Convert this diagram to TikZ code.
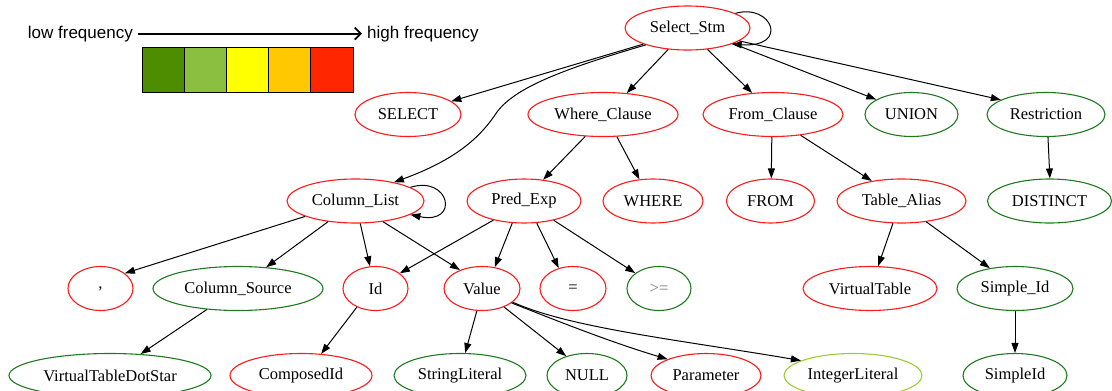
\documentclass[tikz,border=0pt]{standalone}
\usepackage{fontspec}
\usetikzlibrary{shapes.geometric,arrows.meta}
\newfontfamily\gvserif{Liberation Serif}
\newfontfamily\gvsans{Liberation Sans}
\definecolor{gvred}{HTML}{FF1A1A}
\definecolor{gvgreen}{HTML}{1F7A1F}
\definecolor{gvlight}{HTML}{9ACD32}
\definecolor{gegray}{HTML}{7A7A7A}
\definecolor{lvA}{HTML}{4E8C00}
\definecolor{lvB}{HTML}{8BBF3F}
\definecolor{lvC}{HTML}{FFFF00}
\definecolor{lvD}{HTML}{FFC800}
\definecolor{lvE}{HTML}{FF2600}
\tikzset{
  gvnode/.style={ellipse, draw, line width=1.1pt, inner sep=0pt, minimum height=44pt,
    font=\gvserif\fontsize{16.5}{18}\selectfont},
  hot/.style={gvnode, draw=gvred},
  cold/.style={gvnode, draw=gvgreen},
  mild/.style={gvnode, draw=gvlight},
  gvedge/.style={line width=1pt, -{Triangle[length=10pt,width=7pt]}},
  legtext/.style={inner sep=0pt, font=\gvsans\fontsize{17}{20}\selectfont},
  legbox/.style={draw, line width=1pt, inner sep=0pt, minimum width=42.2pt, minimum height=45pt},
}
\begin{document}
\begin{tikzpicture}[x=1pt, y=-1pt]
\useasboundingbox (0,0) rectangle (1112,391);

% legend: frequency scale
\node[legtext, anchor=base east] (lowtxt) at (133,38) {low frequency};
\node[legtext, anchor=base west] (hightxt) at (367,38) {high frequency};
\draw[line width=1.8pt, -{Straight Barb[length=6pt,width=12pt]}]
  ([xshift=5pt]lowtxt.east) -- ([xshift=-5pt]hightxt.west);
\foreach \c [count=\i] in {lvA,lvB,lvC,lvD,lvE}
  \node[legbox, fill=\c] (lv\i) at ({142+42.2*(\i-0.5)},69.5) {};

% parse tree nodes
\node[hot,  minimum width=125pt] (sel)      at (687.5,28)   {Select\_Stm};

\node[hot,  minimum width=106pt] (kwsel)    at (408,114.5)  {SELECT};
\node[hot,  minimum width=150pt] (where)    at (603,114.5)  {Where\_Clause};
\node[hot,  minimum width=140pt] (from)     at (773,114.5)  {From\_Clause};
\node[cold, minimum width=93pt]  (union)    at (911.5,114.5){UNION};
\node[cold, minimum width=118pt] (restr)    at (1046,114.5) {Restriction};

\node[hot,  minimum width=137pt] (collist)  at (355.5,201)  {Column\_List};
\node[hot,  minimum width=114pt] (pred)     at (524,201)    {Pred\_Exp};
\node[hot,  minimum width=100pt] (kwwhere)  at (653,201)    {WHERE};
\node[hot,  minimum width=88pt]  (kwfrom)   at (770.5,201)  {FROM};
\node[hot,  minimum width=129pt] (talias)   at (901.5,201)  {Table\_Alias};
\node[cold, minimum width=124pt] (distinct) at (1049.5,201) {DISTINCT};

\node[hot,  minimum width=65pt]  (comma)    at (100.5,288.5){,};
\node[cold, minimum width=170pt] (colsrc)   at (238,288.5)  {Column\_Source};
\node[hot,  minimum width=65pt]  (id)       at (375.5,288.5){Id};
\node[hot,  minimum width=76pt]  (value)    at (482,288.5)  {Value};
\node[hot,  minimum width=66pt]  (eq)       at (573,288.5)  {=};
\node[cold, minimum width=64pt, text=gegray] (ge) at (659,288.5) {>=};
\node[hot,  minimum width=134pt] (vtable)   at (870,288.5)  {VirtualTable};
\node[cold, minimum width=116pt] (simpid)   at (1015,288.5) {Simple\_Id};

\node[cold, minimum width=202pt] (vtds)     at (110,375.5)  {VirtualTableDotStar};
\node[hot,  minimum width=142pt] (composed) at (301,375.5)  {ComposedId};
\node[cold, minimum width=132pt] (strlit)   at (460,375.5)  {StringLiteral};
\node[cold, minimum width=80pt]  (null)     at (587,375.5)  {NULL};
\node[hot,  minimum width=110pt] (param)    at (706,375.5)  {Parameter};
\node[mild, minimum width=138pt] (intlit)   at (853,375.5)  {IntegerLiteral};
\node[cold, minimum width=104pt] (simpleid) at (1015,375.5) {SimpleId};

% edges from Select_Stm
\draw[gvedge] (sel.17) .. controls (772,3) and (790,48) .. (sel.-20);
\draw[gvedge] (sel.-160) -- (kwsel.17);
\draw[gvedge] (sel.-158) .. controls (560,70) and (515,88) .. (497,112)
                         .. controls (480,138) and (455,160) .. (collist.26);
\draw[gvedge] (sel.-132) -- (where.42);
\draw[gvedge] (sel.-47) -- (from.134);
\draw[gvedge] (sel.-19) -- (union.157);
\draw[gvedge] (sel.-14) -- (restr.162);

% second level
\draw[gvedge] (where.-129) -- (pred.48);
\draw[gvedge] (where.-58) -- (kwwhere.122);
\draw[gvedge] (from.-93) -- (kwfrom.88);
\draw[gvedge] (from.-37) -- (talias.146);
\draw[gvedge] (restr.-85) -- (distinct.89);

% third level
\draw[gvedge] (collist.14) .. controls (450,175) and (460,225) .. (collist.-14);
\draw[gvedge] (collist.-163) -- (comma.32);
\draw[gvedge] (collist.-143) -- (colsrc.37);
\draw[gvedge] (collist.-78) -- (id.104);
\draw[gvedge] (collist.-37) -- (value.140);
\draw[gvedge] (pred.-148) -- (id.32);
\draw[gvedge] (pred.-118) -- (value.59);
\draw[gvedge] (pred.-60) -- (eq.125);
\draw[gvedge] (pred.-33) -- (ge.147);
\draw[gvedge] (talias.-111) -- (vtable.70);
\draw[gvedge] (talias.-40) -- (simpid.141);

% leaves
\draw[gvedge] (colsrc.-146) -- (vtds.35);
\draw[gvedge] (id.-135) -- (composed.47);
\draw[gvedge] (value.-103) -- (strlit.77);
\draw[gvedge] (value.-40) -- (null.137);
\draw[gvedge] (value.-26) .. controls (555,320) and (610,342) .. (param.157);
\draw[gvedge] (value.-24) .. controls (570,328) and (680,340) .. (intlit.164);
\draw[gvedge] (simpid.-90) -- (simpleid.90);
\end{tikzpicture}
\end{document}
